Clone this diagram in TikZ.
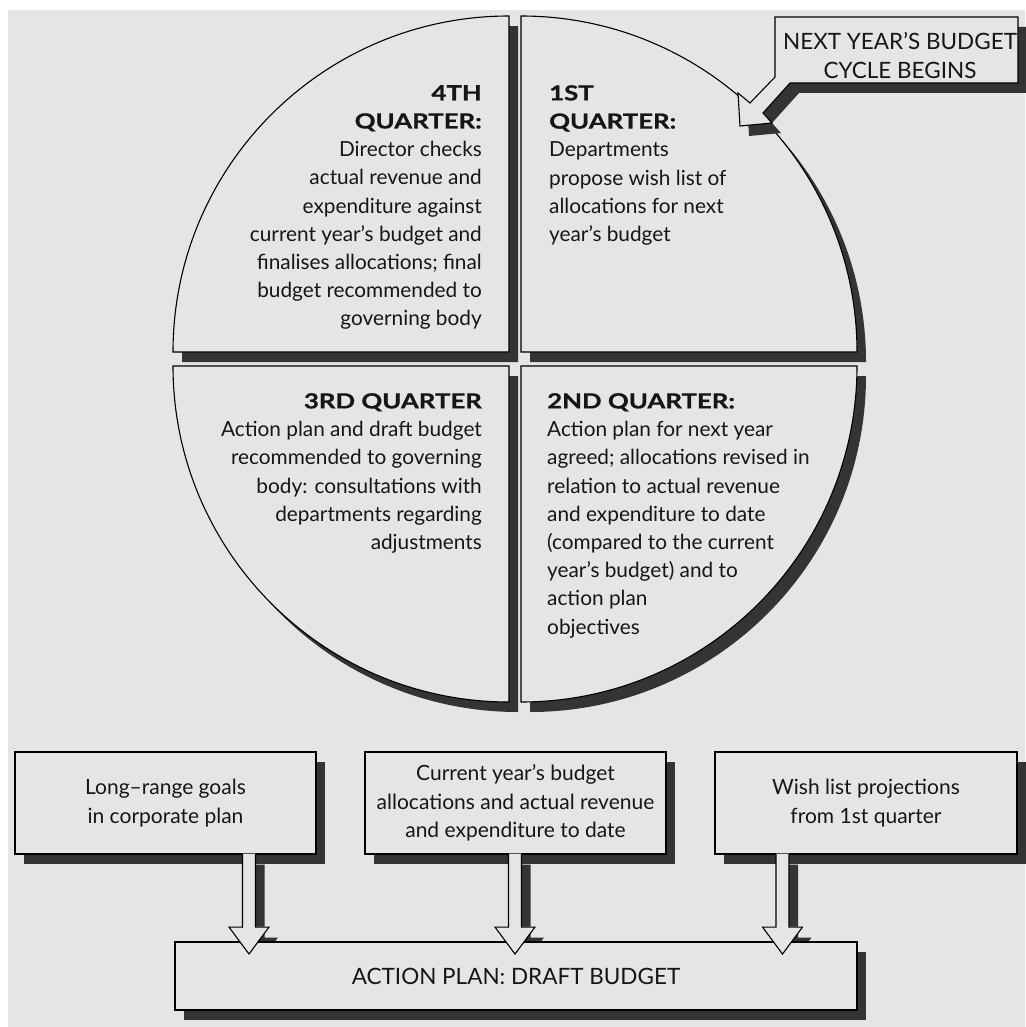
\documentclass[tikz,border=0pt]{standalone}
\usepackage{fontspec}
\setmainfont{Lato}
\newfontfamily\headfont{Lato}[FakeStretch=1.24, FakeBold=0.8]
\definecolor{paper}{RGB}{229,229,229}
\definecolor{shadowgray}{RGB}{52,52,52}
\definecolor{ink}{RGB}{22,22,22}
% outline of a block arrow pointing down, starting at the left side of its shaft
\newcommand{\arrowpath}{-- ++(0,73) -- ++(-13.5,0) -- ++(20,27) -- ++(20,-27) -- ++(-13.5,0) -- ++(0,-73)}
\newcommand{\hd}[1]{{\headfont\bfseries #1}}
\begin{document}
\begin{tikzpicture}[x=1pt,y=-1pt,
  body/.style={font=\fontsize{20.8}{28.2}\selectfont, text=ink, inner sep=0pt},
  outline/.style={draw=black, line width=1.1pt, fill=paper, line join=miter},
  shadowed/.style={preaction={fill=shadowgray, transform canvas={shift={(9pt,-10pt)}}}},
  panel/.style={outline, shadowed, inner sep=0pt, align=center,
    font=\fontsize{21}{28.4}\selectfont, text=ink},
]
\useasboundingbox (0,0) rectangle (1025,1027);
\fill[white] (0,0) rectangle (1025,1027);
\fill[paper] (8,10) rectangle (1025,1027);

% ---- the four quarters of the year ----
\def\R{336}
\coordinate (c4) at (509,352);
\coordinate (c1) at (521,352);
\coordinate (c3) at (509,366);
\coordinate (c2) at (521,366);
\path[outline, shadowed] (c4) -- ++(-\R,0) arc[start angle=180, end angle=270, radius=\R] -- cycle;
\path[outline, shadowed] (c1) -- ++(0,-\R) arc[start angle=270, end angle=360, radius=\R] -- cycle;
\path[outline, shadowed] (c3) -- ++(-\R,0) arc[start angle=180, end angle=90, radius=\R] -- cycle;
\path[outline, shadowed] (c2) -- ++(\R,0) arc[start angle=0, end angle=90, radius=\R] -- cycle;

\node[body, anchor=north east, align=right] (q4) at (482,85)
  {\hd{4TH}\\\hd{QUARTER:}\\Director checks\\actual revenue and\\expenditure against\\current year's budget and\\finalises allocations; final\\budget recommended to\\governing body};
\node[body, anchor=north west, align=left] (q1) at (549,85)
  {\hd{1ST}\\\hd{QUARTER:}\\Departments\\propose wish list of\\allocations for next\\year's budget};
\node[body, anchor=north east, align=right] (q3) at (482,393)
  {\hd{3RD QUARTER}\\Action plan and draft budget\\recommended to governing\\body: consultations with\\departments regarding\\adjustments};
\node[body, anchor=north west, align=left] (q2) at (547,393)
  {\hd{2ND QUARTER:}\\Action plan for next year\\agreed; allocations revised in\\relation to actual revenue\\and expenditure to date\\(compared to the current\\year's budget) and to\\action plan\\objectives};

% ---- call-out pointing at the start of the cycle ----
\path[outline, shadowed] (775,17) -- (1018,17) -- (1018,83) -- (790,83) -- (763,113)
  -- (772,123) -- (740,126) -- (738,93) -- (750,103) -- (775,77) -- cycle;
\node[font=\fontsize{22.5}{29}\selectfont, text=ink, inner sep=0pt, align=center, anchor=north]
  (next) at (900,32) {NEXT YEAR'S BUDGET\\CYCLE BEGINS};

% ---- inputs to the action plan ----
\node[panel, minimum width=301, minimum height=102] (goals) at (165.5,803)
  {Long–range goals\\in corporate plan};
\node[panel, minimum width=301, minimum height=102] (current) at (515.5,803)
  {Current year's budget\\allocations and actual revenue\\and expenditure to date};
\node[panel, minimum width=302, minimum height=102] (wish) at (866,803)
  {Wish list projections\\from 1st quarter};

\coordinate (a1) at (goals.south -| 242.5,0);
\coordinate (a2) at (current.south -| 508.5,0);
\coordinate (a3) at (wish.south -| 776,0);

% arrow shadows lie under the target box
\foreach \a in {a1,a2,a3}
  \fill[shadowgray] ([xshift=9pt,yshift=-10pt]\a) \arrowpath -- cycle;

\node[panel, minimum width=682, minimum height=68, font=\fontsize{22.5}{28}\selectfont]
  (plan) at (516,976) {ACTION PLAN: DRAFT BUDGET};

% arrows merge with the boxes they leave and overlap the target box
\foreach \a in {a1,a2,a3}{
  \fill[paper] ([yshift=1pt]\a) \arrowpath -- cycle;
  \draw[black, line width=1.1pt, line join=miter] ([yshift=0.5pt]\a) \arrowpath;
}
\end{tikzpicture}
\end{document}
